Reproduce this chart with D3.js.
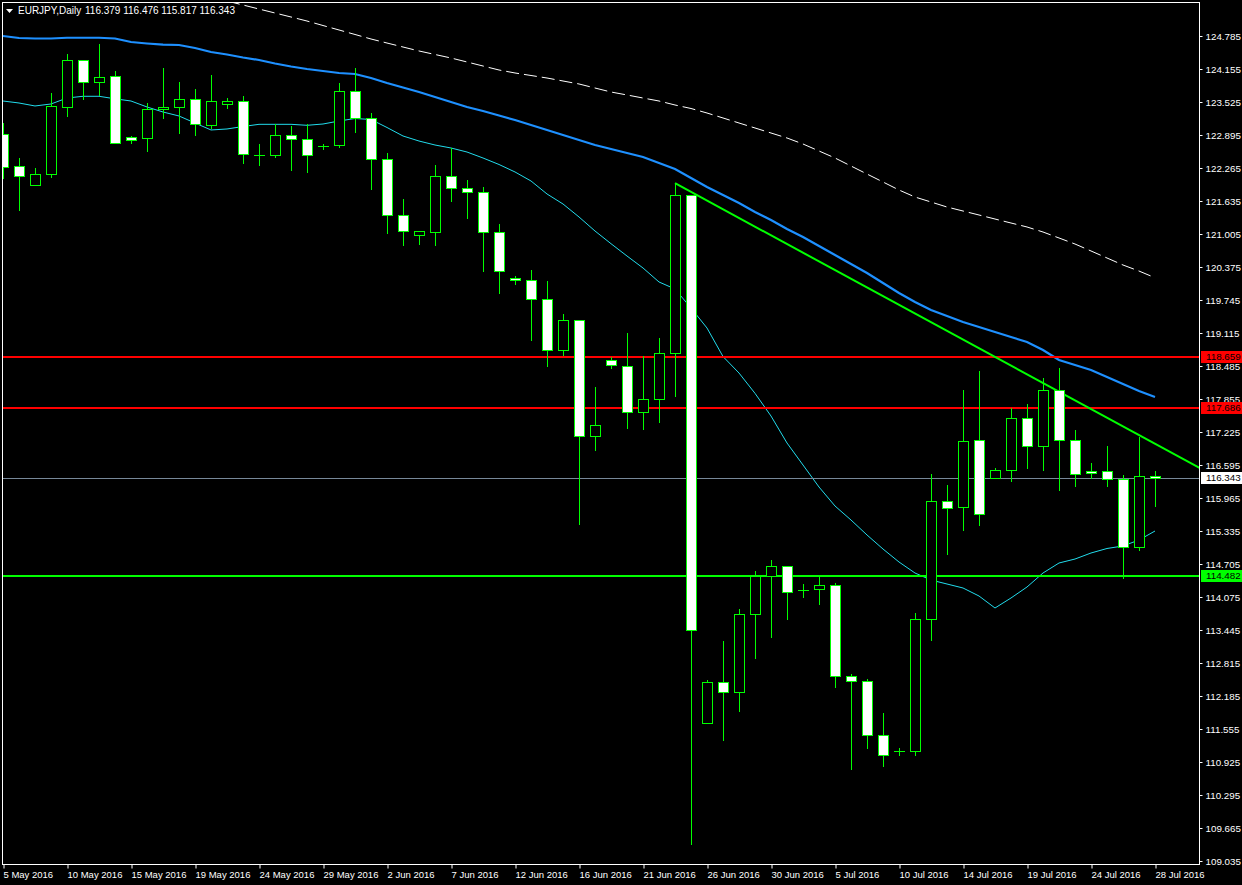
<!DOCTYPE html>
<html><head><meta charset="utf-8">
<script src="https://cdn.jsdelivr.net/npm/d3@7"></script>
<style>html,body{margin:0;padding:0;background:#000;overflow:hidden}svg{display:block}</style>
</head><body><svg id="c" width="1242" height="885"></svg>
<script>
// ---------------- data ----------------
const symbol = "EURJPY,Daily";
const opens  = [122.908,122.297,121.935,122.156,123.435,124.321,123.901,124.016,122.851,122.832,
                123.386,123.424,123.577,123.092,123.481,123.538,122.519,122.507,122.889,122.813,
                122.691,122.698,123.729,123.214,122.431,121.362,120.980,121.037,122.107,121.877,
                121.801,121.037,120.159,120.121,119.770,118.796,119.357,117.142,118.609,118.493,
                117.598,117.863,118.742,121.742,111.672,112.460,112.260,113.753,114.482,114.667,
                114.208,114.222,114.298,112.561,112.471,111.434,111.141,111.129,113.649,115.902,
                115.787,117.066,116.352,116.494,117.486,116.952,118.021,117.066,116.475,116.475,
                116.328,115.024,116.379];
const highs  = [123.118,122.456,122.259,123.697,124.441,124.321,124.632,124.117,122.876,123.500,
                124.174,123.907,123.773,124.040,123.596,123.640,122.723,123.099,123.067,123.099,
                122.723,123.888,124.174,123.309,122.546,121.673,121.057,122.322,122.647,122.030,
                121.902,121.196,120.197,120.312,120.108,119.478,119.357,118.087,118.659,119.123,
                118.667,119.015,121.974,121.742,112.484,113.230,113.844,114.571,114.781,114.667,
                114.323,114.462,114.342,112.605,112.509,111.860,111.192,113.769,116.423,116.213,
                118.027,118.389,116.543,117.683,117.759,118.256,118.447,117.263,116.633,116.958,
                116.404,117.129,116.476];
const lows   = [122.080,121.463,121.935,122.099,123.263,123.588,123.664,122.737,122.748,122.595,
                123.225,122.939,122.901,123.034,123.416,122.366,122.328,122.481,122.233,122.194,
                122.633,122.672,122.958,121.870,121.030,120.801,120.820,120.801,121.641,121.316,
                120.304,119.884,120.056,118.987,118.491,118.701,115.474,116.885,118.452,117.308,
                117.283,117.407,117.905,109.360,111.672,111.349,111.896,112.916,113.317,113.661,
                114.081,113.947,112.362,110.797,111.198,110.854,111.064,111.064,113.260,114.901,
                115.360,115.455,116.352,116.295,116.543,116.505,116.123,116.200,116.352,116.200,
                114.443,114.978,115.817];
const closes = [122.290,122.107,122.145,123.443,124.321,123.901,123.997,122.737,122.794,123.386,
                123.424,123.577,123.099,123.538,123.538,122.527,122.516,122.889,122.813,122.507,
                122.694,123.729,123.214,122.431,121.362,121.053,121.057,122.107,121.877,121.801,
                121.037,120.293,120.121,119.770,118.796,119.357,117.143,117.366,118.502,117.598,
                117.847,118.742,121.742,113.454,112.460,112.260,113.753,114.482,114.667,114.165,
                114.205,114.298,112.561,112.471,111.434,111.053,111.138,113.649,115.906,115.768,
                117.047,115.654,116.494,117.486,116.952,118.021,117.066,116.417,116.436,116.322,
                115.024,116.379,116.343];
// moving averages (per bar)
const maFast = [123.544,123.506,123.449,123.487,123.601,123.634,123.634,123.586,123.544,123.430,
                123.334,123.258,123.124,122.991,123.010,123.057,123.099,123.099,123.099,123.080,
                123.105,123.162,123.210,123.191,123.038,122.876,122.780,122.704,122.647,122.570,
                122.456,122.332,122.189,122.017,121.769,121.578,121.330,121.062,120.820,120.585,
                120.356,120.089,119.955,119.592,119.210,118.666,118.351,117.963,117.530,117.015,
                116.595,116.175,115.812,115.545,115.259,114.991,114.743,114.533,114.399,114.323,
                114.247,114.094,113.865,114.056,114.266,114.533,114.724,114.800,114.915,115.001,
                115.049,115.163,115.335];
const maMid  = [124.785,124.747,124.737,124.737,124.752,124.752,124.752,124.737,124.670,124.642,
                124.619,124.613,124.556,124.480,124.432,124.375,124.327,124.260,124.203,124.155,
                124.117,124.079,124.060,123.983,123.888,123.802,123.716,123.620,123.525,123.430,
                123.353,123.267,123.181,123.086,122.990,122.895,122.800,122.704,122.628,122.551,
                122.475,122.360,122.246,122.074,121.902,121.749,121.597,121.425,121.272,121.100,
                120.948,120.776,120.604,120.432,120.260,120.069,119.879,119.707,119.554,119.439,
                119.325,119.230,119.134,119.038,118.943,118.790,118.600,118.504,118.409,118.275,
                118.141,118.008,117.893];
const maSlow = [null,null,null,null,null,null,null,null,null,null,
                null,null,null,null,125.453,125.377,125.300,125.224,125.148,125.071,
                124.985,124.900,124.814,124.728,124.651,124.575,124.499,124.432,124.365,124.289,
                124.212,124.136,124.079,124.031,123.983,123.926,123.869,123.792,123.716,123.659,
                123.601,123.544,123.468,123.401,123.315,123.220,123.124,123.029,122.933,122.838,
                122.723,122.590,122.456,122.303,122.150,121.998,121.845,121.711,121.616,121.520,
                121.444,121.368,121.291,121.215,121.139,121.043,120.929,120.814,120.681,120.547,
                120.413,120.298,120.170];
const priceTicks = [124.785,124.155,123.525,122.895,122.265,121.635,121.005,120.375,119.745,119.115,
                    118.485,117.855,117.225,116.595,115.965,115.335,114.705,114.075,113.445,112.815,
                    112.185,111.555,110.925,110.295,109.665,109.035];
const dateLabels = ["5 May 2016","10 May 2016","15 May 2016","19 May 2016","24 May 2016","29 May 2016",
                    "2 Jun 2016","7 Jun 2016","12 Jun 2016","16 Jun 2016","21 Jun 2016","26 Jun 2016",
                    "30 Jun 2016","5 Jul 2016","10 Jul 2016","14 Jul 2016","19 Jul 2016","24 Jul 2016","28 Jul 2016"];
const dateLabelBars = [0,4,8,12,16,20,24,28,32,36,40,44,48,52,56,60,64,68,72];
const resistanceLevels = [118.659, 117.686];
const supportLevels = [114.482];
const bidPrice = 116.343;
const trendBars = [42, 65];
const trendPrices = [121.974, 118.162];

// ---------------- drawing ----------------
const W = 1242, H = 885;
const L = 2, R = 1200, T = 2, B = 864;
const svg = d3.select("#c");
svg.append("rect").attr("width", W).attr("height", H).attr("fill", "#000");

const x = d3.scaleLinear().domain([0, 72]).range([3, 1155]);
const y = d3.scaleLinear().domain([109.035, 124.785]).range([861, 36]);
const FONT = "'Liberation Sans', Arial, sans-serif";

svg.append("defs").append("clipPath").attr("id", "plot")
  .append("rect").attr("x", L).attr("y", T).attr("width", R - L).attr("height", B - T);
const g = svg.append("g").attr("clip-path", "url(#plot)");

// moving averages
const line = d3.line().defined(d => d != null).x((d, i) => x(i)).y(d => y(d));
g.append("path").datum(maSlow).attr("d", line).attr("fill", "none")
  .attr("stroke", "#fff").attr("stroke-width", 1).attr("stroke-dasharray", "13,5");
g.append("path").datum(maMid).attr("d", line).attr("fill", "none")
  .attr("stroke", "#1e90ff").attr("stroke-width", 2.2);
g.append("path").datum(maFast).attr("d", line).attr("fill", "none")
  .attr("stroke", "#22dcec").attr("stroke-width", 1);

// horizontal levels
const snap = v => Math.round(v) + 0.5;
resistanceLevels.forEach(p => g.append("line").attr("x1", L).attr("x2", R)
  .attr("y1", Math.round(y(p))).attr("y2", Math.round(y(p))).attr("stroke", "#ff0000").attr("stroke-width", 2));
supportLevels.forEach(p => g.append("line").attr("x1", L).attr("x2", R)
  .attr("y1", Math.round(y(p))).attr("y2", Math.round(y(p))).attr("stroke", "#00ff00").attr("stroke-width", 2));
g.append("line").attr("x1", L).attr("x2", R).attr("y1", snap(y(bidPrice))).attr("y2", snap(y(bidPrice)))
  .attr("stroke", "#778899").attr("stroke-width", 1);

// trend line (ray to the right edge)
const slope = (trendPrices[1] - trendPrices[0]) / (trendBars[1] - trendBars[0]);
const endBar = x.invert(R);
g.append("line")
  .attr("x1", x(trendBars[0])).attr("y1", y(trendPrices[0]))
  .attr("x2", x(endBar)).attr("y2", y(trendPrices[0] + slope * (endBar - trendBars[0])))
  .attr("stroke", "#00ff00").attr("stroke-width", 2);

// candles
const bars = opens.map((o, i) => ({ i, o, h: highs[i], l: lows[i], c: closes[i] }));
const cg = g.append("g");
bars.forEach(d => {
  const cx = Math.round(x(d.i)) + 0.5;
  cg.append("line").attr("x1", cx).attr("x2", cx)
    .attr("y1", Math.round(y(d.h))).attr("y2", Math.round(y(d.l)) + 1)
    .attr("stroke", "#00ff00").attr("stroke-width", 1);
  const yo = Math.round(y(d.o)), yc = Math.round(y(d.c));
  const top = Math.min(yo, yc), bot = Math.max(yo, yc);
  if (bot - top < 1) {
    cg.append("line").attr("x1", cx - 5.5).attr("x2", cx + 5.5)
      .attr("y1", top + 0.5).attr("y2", top + 0.5).attr("stroke", "#00ff00").attr("stroke-width", 1);
  } else {
    cg.append("rect").attr("x", cx - 5).attr("y", top + 0.5)
      .attr("width", 10).attr("height", bot - top)
      .attr("fill", d.c < d.o ? "#ffffff" : "#000000")
      .attr("stroke", "#00ff00").attr("stroke-width", 1);
  }
});

// frame
svg.append("rect").attr("x", L + 0.5).attr("y", T + 0.5).attr("width", R - L - 1).attr("height", B - T)
  .attr("fill", "none").attr("stroke", "#fff").attr("stroke-width", 1);

// right price axis
const ya = svg.append("g").attr("transform", `translate(${R - 0.5},0)`)
  .call(d3.axisRight(y).tickValues(priceTicks).tickSize(3).tickPadding(3).tickFormat(d3.format(".3f")));
ya.select(".domain").remove();
ya.selectAll("line").attr("stroke", "#fff");
ya.selectAll("text").attr("fill", "#fff").attr("font-family", FONT).attr("font-size", "9.8px");

// bottom date axis
const xa = svg.append("g").attr("transform", `translate(0,${B + 0.5})`)
  .call(d3.axisBottom(x).tickValues(dateLabelBars).tickSize(4).tickPadding(3)
    .tickFormat((d, i) => dateLabels[i]));
xa.select(".domain").remove();
xa.selectAll("line").attr("stroke", "#fff").attr("transform", "translate(0.5,0)");
xa.selectAll("text").attr("fill", "#fff").attr("font-family", FONT).attr("font-size", "9.5px")
  .attr("text-anchor", "start").attr("x", 0);

// price tags on the axis
function tag(p, bg) {
  const yy = Math.round(y(p));
  svg.append("rect").attr("x", R + 1).attr("y", yy - 6).attr("width", W - R - 1).attr("height", 12).attr("fill", bg);
  svg.append("text").attr("x", R + 6).attr("y", yy).attr("dy", "0.35em")
    .attr("font-family", FONT).attr("font-size", "9.8px").attr("fill", "#000").text(d3.format(".3f")(p));
}
resistanceLevels.forEach(p => tag(p, "#ff0000"));
supportLevels.forEach(p => tag(p, "#00ff00"));
tag(bidPrice, "#ffffff");

// header
const last = bars[bars.length - 1];
svg.append("path").attr("d", "M6,9 L13,9 L9.5,13 Z").attr("fill", "#fff");
svg.append("text").attr("x", 18).attr("y", 14).attr("font-family", FONT).attr("font-size", "10px")
  .attr("fill", "#fff").text(symbol);
svg.append("text").attr("x", 85).attr("y", 14).attr("font-family", FONT).attr("font-size", "10px")
  .attr("fill", "#fff").text([last.o, last.h, last.l, last.c].map(d3.format(".3f")).join(" "));
</script></body></html>
